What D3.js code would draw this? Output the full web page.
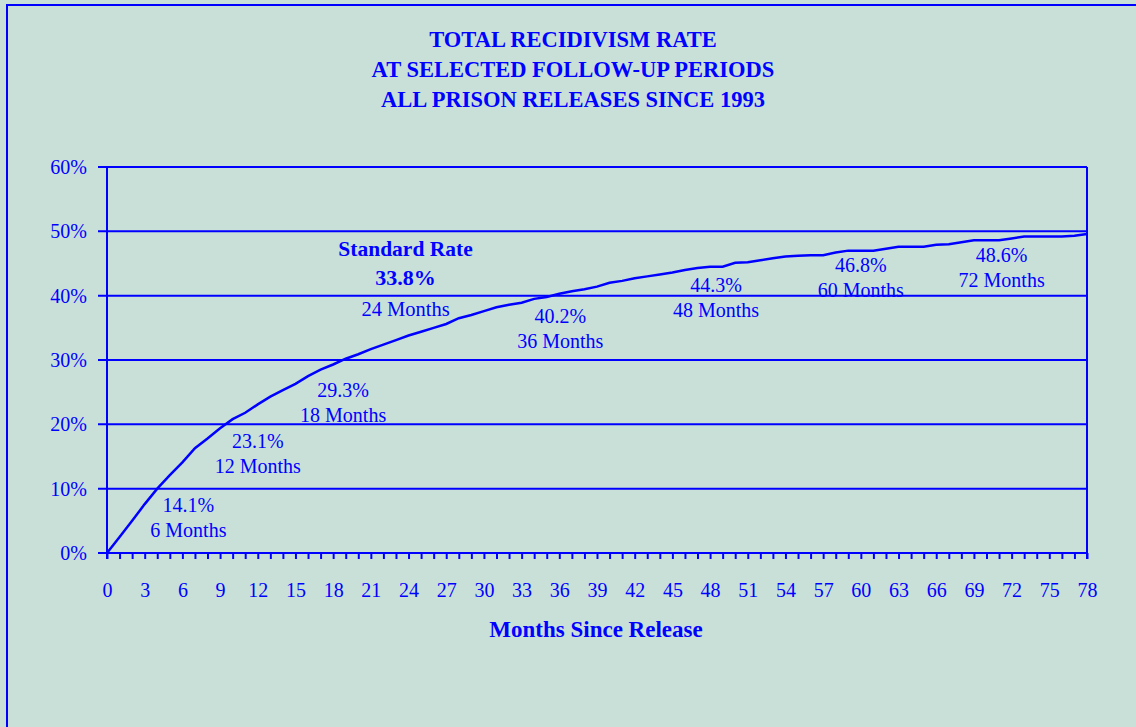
<!DOCTYPE html>
<html>
<head>
<meta charset="utf-8">
<script src="https://cdn.jsdelivr.net/npm/d3@7"></script>
<style>
  body { margin: 0; background: #c8e0d8; }
  svg { display: block; font-family: "Liberation Serif", "Times New Roman", serif; }
</style>
</head>
<body>
<svg id="ch" width="1136" height="727"></svg>
<script>
// recidivism rate (%) by month since release, 0..78
var months = d3.range(0, 79);
var rates = [
  0, 2.5, 5.0, 7.6, 10.0, 12.1, 14.1, 16.3, 17.8, 19.4,
  20.8, 21.8, 23.1, 24.3, 25.3, 26.3, 27.5, 28.5, 29.3, 30.2,
  30.9, 31.7, 32.4, 33.1, 33.8, 34.4, 35.0, 35.6, 36.5, 37.0,
  37.6, 38.2, 38.6, 38.9, 39.5, 39.8, 40.3, 40.7, 41.0, 41.4,
  42.0, 42.3, 42.7, 43.0, 43.3, 43.6, 44.0, 44.3, 44.5, 44.5,
  45.1, 45.2, 45.5, 45.8, 46.1, 46.2, 46.3, 46.3, 46.7, 47.0,
  47.0, 47.0, 47.3, 47.6, 47.6, 47.6, 47.9, 48.0, 48.3, 48.6,
  48.6, 48.6, 48.9, 49.2, 49.2, 49.2, 49.2, 49.3, 49.6
];
var yTicks = [0, 10, 20, 30, 40, 50, 60];
var titleLines = ["TOTAL RECIDIVISM RATE", "AT SELECTED FOLLOW-UP PERIODS", "ALL PRISON RELEASES SINCE 1993"];

// annotated follow-up periods
var noteMonths = [6, 12, 18, 24, 36, 48, 60, 72];
var noteRates = [14.1, 23.1, 29.3, 33.8, 40.2, 44.3, 46.8, 48.6];
// label offsets from the point [dx, dy of first line]
var noteOffsets = [[6, 50], [0, 44], [10, 32], [-3, -20], [1, 29], [6, 24], [0, 20], [-10, 22]];

var svg = d3.select("#ch");
var blue = "#0000ff";

// outer frame (only top and left visible)
svg.append("rect")
  .attr("x", 7).attr("y", 5)
  .attr("width", 1200).attr("height", 800)
  .style("fill", "none").style("stroke", blue).style("stroke-width", 2);

var x = d3.scaleLinear().domain([0, 78]).range([107, 1087]);
var y = d3.scaleLinear().domain([0, 60]).range([553, 167]);

// title
svg.append("g").selectAll("text")
  .data(titleLines)
  .enter().append("text")
  .attr("x", 573)
  .attr("y", function (d, i) { return 47 + i * 30; })
  .attr("text-anchor", "middle")
  .style("font-weight", "bold")
  .style("font-size", "22.5px")
  .style("fill", blue)
  .text(function (d) { return d; });

// gridlines
svg.append("g").selectAll("line")
  .data(yTicks)
  .enter().append("line")
  .attr("x1", 98).attr("x2", 1087)
  .attr("y1", function (d) { return y(d); })
  .attr("y2", function (d) { return y(d); })
  .style("stroke", blue).style("stroke-width", 2);

// y axis labels
var yAxis = d3.axisLeft(y).tickValues(yTicks).tickSize(0).tickPadding(20)
  .tickFormat(function (d) { return d + "%"; });
var gy = svg.append("g").attr("transform", "translate(107,0)").call(yAxis);
gy.select(".domain").remove();
gy.selectAll("text").style("font-size", "20px").style("fill", blue)
  .style("font-family", "'Liberation Serif', 'Times New Roman', serif");

// x axis ticks every month, labels every 3
var xAxis = d3.axisBottom(x).tickValues(months).tickSize(6).tickSizeOuter(0).tickPadding(24)
  .tickFormat(function (d) { return d % 3 === 0 ? d : ""; });
var gx = svg.append("g").attr("transform", "translate(0,553)").call(xAxis);
gx.select(".domain").remove();
gx.selectAll("line").style("stroke", blue).style("stroke-width", 2);
gx.selectAll("text").style("font-size", "20px").style("fill", blue)
  .style("font-family", "'Liberation Serif', 'Times New Roman', serif");

// plot borders left / right
svg.append("g").selectAll("line")
  .data([0, 78])
  .enter().append("line")
  .attr("x1", function (d) { return x(d); })
  .attr("x2", function (d) { return x(d); })
  .attr("y1", y(60)).attr("y2", 559)
  .style("stroke", blue).style("stroke-width", 2);

// the rate line
var line = d3.line()
  .x(function (d, i) { return x(months[i]); })
  .y(function (d) { return y(d); });

svg.append("path")
  .attr("d", line(rates))
  .style("fill", "none")
  .style("stroke", blue)
  .style("stroke-width", 2.5);

// annotations
var notes = svg.append("g").style("fill", blue).attr("text-anchor", "middle");
noteMonths.forEach(function (m, i) {
  var px = x(m) + noteOffsets[i][0];
  var py = y(noteRates[i]) + noteOffsets[i][1];
  if (m === 24) {
    notes.append("text").attr("x", px).attr("y", py - 60)
      .style("font-weight", "bold").style("font-size", "21.5px").text("Standard Rate");
    notes.append("text").attr("x", px).attr("y", py - 31)
      .style("font-weight", "bold").style("font-size", "22px").text(noteRates[i].toFixed(1) + "%");
    notes.append("text").attr("x", px).attr("y", py)
      .style("font-size", "20.5px").text(m + " Months");
  } else {
    notes.append("text").attr("x", px).attr("y", py)
      .style("font-size", "20px").text(noteRates[i].toFixed(1) + "%");
    notes.append("text").attr("x", px).attr("y", py + 25)
      .style("font-size", "20px").text(m + " Months");
  }
});

// x axis title
svg.append("text")
  .attr("x", 596).attr("y", 637)
  .attr("text-anchor", "middle")
  .style("font-weight", "bold")
  .style("font-size", "23px")
  .style("fill", blue)
  .text("Months Since Release");
</script>
</body>
</html>
